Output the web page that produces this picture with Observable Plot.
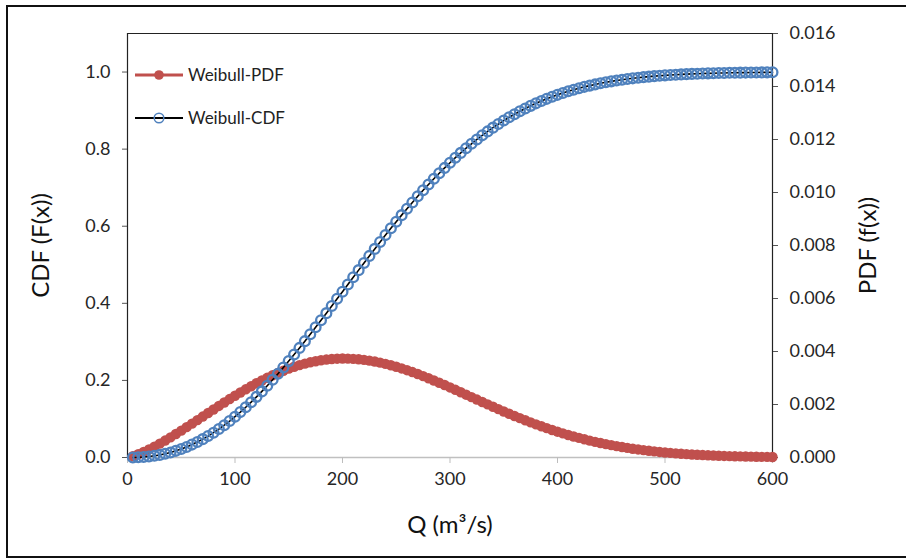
<!DOCTYPE html>
<html>
<head>
<meta charset="utf-8">
<script src="https://cdn.jsdelivr.net/npm/d3@7"></script>
<script src="https://cdn.jsdelivr.net/npm/@observablehq/plot@0.6"></script>
<style>
  html, body { margin: 0; padding: 0; background: #fff; }
  #wrap { position: relative; width: 906px; height: 560px; overflow: hidden; font-family: Lato, "Liberation Sans", sans-serif; }
  #frame { position: absolute; left: 6px; top: 5px; width: 920px; height: 549px; border: 2px solid #111; box-sizing: content-box; pointer-events: none; }
  #legend { position: absolute; left: 0; top: 0; pointer-events: none; }
</style>
</head>
<body>
<div id="wrap">
  <div id="chart"></div>
  <div id="frame"></div>
</div>
<script>
// ---- data ----
const Q = [5,10,15,20,25,30,35,40,45,50,55,60,65,70,75,80,85,90,95,100,
  105,110,115,120,125,130,135,140,145,150,155,160,165,170,175,180,185,190,195,200,
  205,210,215,220,225,230,235,240,245,250,255,260,265,270,275,280,285,290,295,300,
  305,310,315,320,325,330,335,340,345,350,355,360,365,370,375,380,385,390,395,400,
  405,410,415,420,425,430,435,440,445,450,455,460,465,470,475,480,485,490,495,500,
  505,510,515,520,525,530,535,540,545,550,555,560,565,570,575,580,585,590,595,600];

const cdfValues = [0.0001,0.0005,0.0013,0.0026,0.0044,0.0067,0.0096,0.0131,0.0173,0.0220,
  0.0274,0.0335,0.0402,0.0476,0.0556,0.0644,0.0738,0.0838,0.0945,0.1059,
  0.1178,0.1304,0.1435,0.1573,0.1715,0.1863,0.2016,0.2173,0.2335,0.2501,
  0.2670,0.2843,0.3018,0.3197,0.3378,0.3560,0.3745,0.3930,0.4116,0.4302,
  0.4489,0.4675,0.4861,0.5046,0.5230,0.5412,0.5592,0.5770,0.5946,0.6118,
  0.6288,0.6454,0.6617,0.6776,0.6932,0.7083,0.7231,0.7374,0.7513,0.7647,
  0.7778,0.7903,0.8024,0.8139,0.8251,0.8358,0.8460,0.8558,0.8651,0.8741,
  0.8826,0.8906,0.8983,0.9054,0.9123,0.9188,0.9248,0.9305,0.9359,0.9409,
  0.9456,0.9500,0.9541,0.9580,0.9616,0.9648,0.9679,0.9708,0.9734,0.9758,
  0.9780,0.9801,0.9820,0.9837,0.9853,0.9868,0.9881,0.9893,0.9904,0.9914,
  0.9923,0.9931,0.9939,0.9946,0.9952,0.9957,0.9962,0.9966,0.9970,0.9974,
  0.9977,0.9980,0.9982,0.9984,0.9986,0.9988,0.9990,0.9991,0.9992,0.9993];

const pdfValues = [0.000049,0.000122,0.000209,0.000306,0.000410,0.000522,0.000639,0.000761,0.000886,0.001014,
  0.001145,0.001277,0.001411,0.001545,0.001679,0.001813,0.001946,0.002076,0.002205,0.002331,
  0.002454,0.002573,0.002689,0.002800,0.002906,0.003007,0.003102,0.003192,0.003275,0.003352,
  0.003423,0.003486,0.003542,0.003592,0.003634,0.003669,0.003696,0.003716,0.003729,0.003734,
  0.003732,0.003723,0.003708,0.003685,0.003657,0.003621,0.003580,0.003533,0.003481,0.003423,
  0.003361,0.003295,0.003224,0.003150,0.003072,0.002991,0.002907,0.002821,0.002734,0.002644,
  0.002554,0.002462,0.002370,0.002278,0.002186,0.002094,0.002003,0.001914,0.001825,0.001737,
  0.001651,0.001566,0.001484,0.001404,0.001326,0.001250,0.001178,0.001108,0.001039,0.000974,
  0.000911,0.000851,0.000794,0.000739,0.000687,0.000638,0.000591,0.000547,0.000505,0.000466,
  0.000429,0.000395,0.000362,0.000332,0.000304,0.000278,0.000253,0.000231,0.000210,0.000190,
  0.000173,0.000156,0.000141,0.000127,0.000114,0.000102,0.000092,0.000083,0.000074,0.000066,
  0.000059,0.000053,0.000047,0.000041,0.000037,0.000032,0.000029,0.000025,0.000022,0.000020];

const xTicks = [0,100,200,300,400,500,600];
const cdfTicks = [0,0.2,0.4,0.6,0.8,1.0];
const pdfTicks = [0,0.002,0.004,0.006,0.008,0.010,0.012,0.014,0.016];
const seriesNames = ["Weibull-PDF", "Weibull-CDF"];
const cdfMax = 1.1, pdfMax = 0.016;

// ---- build ----
const RATIO = cdfMax / pdfMax; // maps PDF onto the shared (left) y scale
const data = Q.map((q, i) => ({q, cdf: cdfValues[i], pdf: pdfValues[i]}));

const RED = "#C0504D", BLUE = "#4F81BD";
const FONT = "Lato, 'Liberation Sans', sans-serif";

const chart = Plot.plot({
  width: 906,
  height: 560,
  marginLeft: 127,
  marginRight: 134,
  marginTop: 33,
  marginBottom: 103,
  style: {fontFamily: FONT, fontSize: "18px", color: "#262626", background: "transparent"},
  x: {domain: [0, 600]},
  y: {domain: [0, cdfMax]},
  marks: [
    // plot area borders
    Plot.ruleY([0], {stroke: "#c0c0c0", strokeWidth: 1.3}),
    Plot.ruleY([cdfMax], {stroke: "#222", strokeWidth: 1.2}),
    Plot.ruleX([0], {stroke: "#222", strokeWidth: 1.2}),
    Plot.ruleX([600], {stroke: "#222", strokeWidth: 1.2}),
    // axes
    Plot.axisX(xTicks, {anchor: "bottom", tickSize: 6, tickPadding: 9, stroke: "#bdbdbd", fill: "#262626", fontSize: 18, label: null}),
    Plot.axisY(cdfTicks, {anchor: "left", tickSize: 5, tickPadding: 12, stroke: "#555", fill: "#262626", tickFormat: d3.format(".1f"), fontSize: 18, label: null}),
    Plot.axisY(pdfTicks.map(v => v * RATIO), {anchor: "right", tickSize: 5, tickPadding: 12, stroke: "#555", fill: "#262626", tickFormat: d => (d / RATIO).toFixed(3), fontSize: 18, label: null}),
    // axis titles
    Plot.text(["CDF (F(x))"], {frameAnchor: "left", textAnchor: "middle", dx: -86, rotate: -90, fontSize: 24, fill: "#111"}),
    Plot.text(["PDF (f(x))"], {frameAnchor: "right", textAnchor: "middle", dx: 96, rotate: -90, fontSize: 24, fill: "#111"}),
    Plot.text(["Q (m³/s)"], {frameAnchor: "bottom", textAnchor: "middle", dy: 75, fontSize: 24, fill: "#111"}),
    // PDF series
    Plot.line(data, {x: "q", y: d => d.pdf * RATIO, stroke: RED, strokeWidth: 3.5}),
    Plot.dot(data, {x: "q", y: d => d.pdf * RATIO, r: 5.2, fill: RED, stroke: "none"}),
    // CDF series
    Plot.line(data, {x: "q", y: "cdf", stroke: "#000", strokeWidth: 1.6}),
    Plot.dot(data, {x: "q", y: "cdf", r: 4.9, fill: "none", stroke: BLUE, strokeWidth: 2.3})
  ]
});
document.getElementById("chart").appendChild(chart);

// ---- legend (inside plot area, top-left) ----
const ns = "http://www.w3.org/2000/svg";
const leg = document.createElementNS(ns, "svg");
leg.setAttribute("id", "legend");
leg.setAttribute("width", 906);
leg.setAttribute("height", 560);
const rows = [
  {name: seriesNames[0], y: 75, line: RED, lw: 3, fill: RED, stroke: "none"},
  {name: seriesNames[1], y: 118, line: "#000", lw: 1.8, fill: "none", stroke: BLUE}
];
rows.forEach(r => {
  const l = document.createElementNS(ns, "line");
  l.setAttribute("x1", 135); l.setAttribute("x2", 183);
  l.setAttribute("y1", r.y); l.setAttribute("y2", r.y);
  l.setAttribute("stroke", r.line); l.setAttribute("stroke-width", r.lw);
  leg.appendChild(l);
  const c = document.createElementNS(ns, "circle");
  c.setAttribute("cx", 159); c.setAttribute("cy", r.y); c.setAttribute("r", 4.8);
  c.setAttribute("fill", r.fill); c.setAttribute("stroke", r.stroke); c.setAttribute("stroke-width", 1.5);
  leg.appendChild(c);
  const t = document.createElementNS(ns, "text");
  t.setAttribute("x", 188); t.setAttribute("y", r.y);
  t.setAttribute("dy", "0.35em");
  t.setAttribute("font-family", FONT);
  t.setAttribute("font-size", 17);
  t.setAttribute("fill", "#222");
  t.textContent = r.name;
  leg.appendChild(t);
});
document.getElementById("wrap").appendChild(leg);
</script>
</body>
</html>
